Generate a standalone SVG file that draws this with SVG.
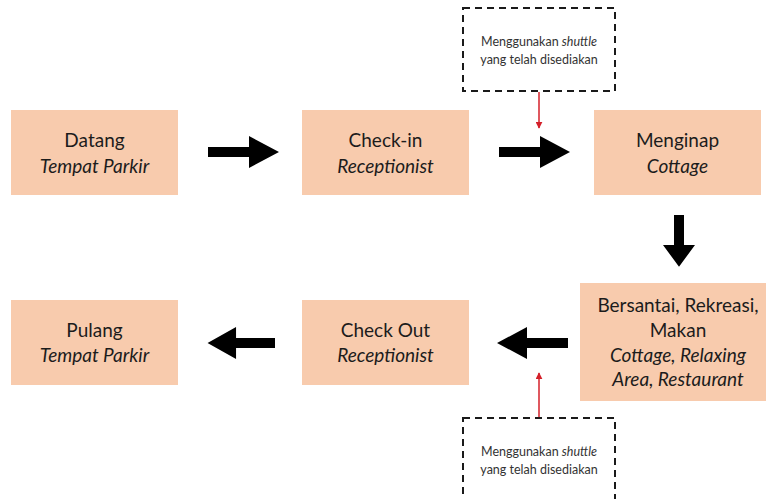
<svg xmlns="http://www.w3.org/2000/svg" width="766" height="499" viewBox="0 0 766 499">
  <style>
    .box { fill: #F8CBAD; }
    .lbl { font-family: Lato, "Open Sans", sans-serif; font-size: 19px; fill: #1c1c1c; text-anchor: middle; }
    .it { font-style: italic; }
    .note { fill: #ffffff; stroke: #1a1a1a; stroke-width: 2; stroke-dasharray: 7 5; }
    .ntxt { font-family: Lato, "Open Sans", sans-serif; font-size: 12.5px; fill: #333; text-anchor: middle; }
    .big { fill: #000; }
    .red { stroke: #d4202a; stroke-width: 1.5; fill: none; }
  </style>
  <defs>
    <marker id="redHead" viewBox="0 0 10 10" refX="9" refY="5" markerWidth="7" markerHeight="7" orient="auto" markerUnits="userSpaceOnUse">
      <path d="M0,0 L10,5 L0,10 z" fill="#d4202a"/>
    </marker>
    <!-- block arrow pointing right, origin at tail, centre line y=0 -->
    <path id="blockArrow" d="M0,-5 L41,-5 L41,-16 L71,0 L41,16 L41,5 L0,5 z"/>
  </defs>

  <g id="node-datang">
    <rect class="box" x="11" y="110" width="167" height="85"/>
    <text class="lbl" x="94.5" y="147">Datang</text>
    <text class="lbl it" x="94.5" y="172.5">Tempat Parkir</text>
  </g>
  <g id="node-checkin">
    <rect class="box" x="302" y="110" width="167" height="85"/>
    <text class="lbl" x="385.5" y="147">Check-in</text>
    <text class="lbl it" x="385.5" y="172.5">Receptionist</text>
  </g>
  <g id="node-menginap">
    <rect class="box" x="594" y="110" width="167" height="85"/>
    <text class="lbl" x="677.5" y="147">Menginap</text>
    <text class="lbl it" x="677.5" y="172.5">Cottage</text>
  </g>
  <g id="node-bersantai">
    <rect class="box" x="580" y="283" width="186" height="118"/>
    <text class="lbl" x="678" y="312">Bersantai, Rekreasi,</text>
    <text class="lbl" x="678" y="337">Makan</text>
    <text class="lbl it" x="678" y="362">Cottage, Relaxing</text>
    <text class="lbl it" x="678" y="386">Area, Restaurant</text>
  </g>
  <g id="node-checkout">
    <rect class="box" x="302" y="300" width="167" height="85"/>
    <text class="lbl" x="385.5" y="337">Check Out</text>
    <text class="lbl it" x="385.5" y="362">Receptionist</text>
  </g>
  <g id="node-pulang">
    <rect class="box" x="11" y="300" width="167" height="85"/>
    <text class="lbl" x="94.5" y="337">Pulang</text>
    <text class="lbl it" x="94.5" y="362">Tempat Parkir</text>
  </g>

  <g id="note-shuttle-top">
    <rect class="note" x="463" y="8" width="152" height="83"/>
    <text class="ntxt" x="539" y="46">Menggunakan <tspan font-style="italic">shuttle</tspan></text>
    <text class="ntxt" x="539" y="64">yang telah disediakan</text>
  </g>
  <g id="note-shuttle-bottom">
    <rect class="note" x="463" y="418" width="152" height="90"/>
    <text class="ntxt" x="539" y="456">Menggunakan <tspan font-style="italic">shuttle</tspan></text>
    <text class="ntxt" x="539" y="474">yang telah disediakan</text>
  </g>

  <g id="connectors">
    <use href="#blockArrow" class="big" transform="translate(208,152)"/>
    <use href="#blockArrow" class="big" transform="translate(499,152)"/>
    <use href="#blockArrow" class="big" transform="translate(679,215) rotate(90) scale(0.73,1)"/>
    <use href="#blockArrow" class="big" transform="translate(568,343) rotate(180)"/>
    <use href="#blockArrow" class="big" transform="translate(275,343) rotate(180) scale(0.95,1)"/>
    <line class="red" x1="539" y1="92" x2="539" y2="128" marker-end="url(#redHead)"/>
    <line class="red" x1="539" y1="417" x2="539" y2="373" marker-end="url(#redHead)"/>
  </g>
</svg>
